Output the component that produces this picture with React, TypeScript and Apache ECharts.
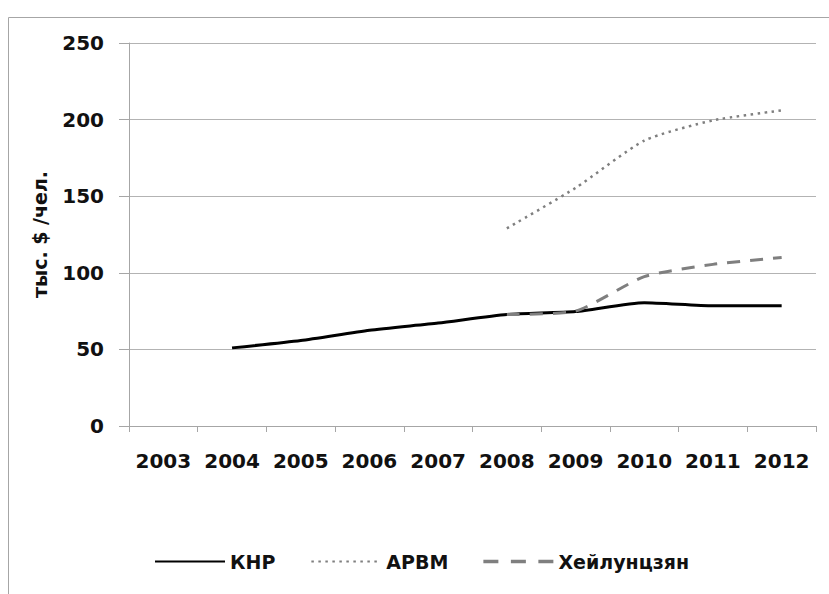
import React, { useEffect, useRef } from "react";
import * as echarts from "echarts";

const years = ["2003", "2004", "2005", "2006", "2007", "2008", "2009", "2010", "2011", "2012"];
const knr = [null, 51, 55.8, 62.5, 67.2, 72.8, 74.7, 80.5, 78.5, 78.5];
const arvm = [null, null, null, null, null, 129, 155.4, 186.3, 199.5, 206];
const heilong = [null, null, null, null, null, 72.8, 75, 97.5, 105.5, 110];
const seriesNames = ["КНР", "АРВМ", "Хейлунцзян"];

const FONT = "DejaVu Sans";

export default function App() {
  const ref = useRef<HTMLDivElement>(null);
  useEffect(() => {
    if (!ref.current) return;
    const chart = echarts.init(ref.current, null, { renderer: "svg" });
    chart.setOption({
      animation: false,
      backgroundColor: "#ffffff",
      textStyle: { fontFamily: FONT },
      graphic: [
        {
          type: "rect",
          shape: { x: 8.5, y: 17.5, width: 900, height: 700 },
          style: { fill: "none", stroke: "#a6a6a6", lineWidth: 1 },
          silent: true,
        },
      ],
      grid: { left: 129, right: 13, top: 43, bottom: 168 },
      legend: {
        left: 149,
        top: 547,
        itemWidth: 70,
        itemHeight: 14,
        itemGap: 35,
        data: [
          { name: seriesNames[0] },
          { name: seriesNames[1] },
          {
            name: seriesNames[2],
            icon: "path://M0,0h15v3.4h-15z M27.5,0h15v3.4h-15z M55,0h15v3.4h-15z",
            itemStyle: { opacity: 1, color: "#7f7f7f" },
          },
        ],
        itemStyle: { opacity: 0 },
        textStyle: { fontFamily: FONT, fontWeight: "bold", fontSize: 19, color: "#111" },
      },
      xAxis: {
        type: "category",
        data: years,
        boundaryGap: true,
        axisLine: { lineStyle: { color: "#a6a6a6", width: 1 } },
        axisTick: { show: true, length: 6, interval: 0, lineStyle: { color: "#a6a6a6" } },
        axisLabel: {
          interval: 0,
          hideOverlap: false,
          margin: 25,
          fontFamily: FONT,
          fontWeight: "bold",
          fontSize: 20,
          color: "#111",
        },
        splitLine: { show: false },
      },
      yAxis: {
        type: "value",
        min: 0,
        max: 250,
        interval: 50,
        name: "тыс. $ /чел.",
        nameLocation: "middle",
        nameGap: 80,
        nameTextStyle: { fontFamily: FONT, fontWeight: "bold", fontSize: 19, color: "#111" },
        axisLine: { show: true, lineStyle: { color: "#a6a6a6", width: 1 } },
        axisTick: { show: true, length: 10, lineStyle: { color: "#a6a6a6" } },
        axisLabel: { margin: 25, fontFamily: FONT, fontWeight: "bold", fontSize: 20, color: "#111" },
        splitLine: { show: true, lineStyle: { color: "#b3b3b3", width: 1 } },
      },
      series: [
        {
          name: seriesNames[0],
          type: "line",
          data: knr,
          symbol: "none",
          smooth: 0.2,
          connectNulls: false,
          lineStyle: { color: "#000000", width: 3, type: "solid" },
          itemStyle: { color: "#000000" },
        },
        {
          name: seriesNames[1],
          type: "line",
          data: arvm,
          symbol: "none",
          smooth: 0.2,
          connectNulls: false,
          lineStyle: { color: "#7f7f7f", width: 2.5, type: [2.5, 4.5] },
          itemStyle: { color: "#7f7f7f" },
        },
        {
          name: seriesNames[2],
          type: "line",
          data: heilong,
          symbol: "none",
          smooth: 0.2,
          connectNulls: false,
          lineStyle: { color: "#7f7f7f", width: 3, type: [13, 10] },
          itemStyle: { color: "#7f7f7f" },
        },
      ],
    });
    return () => chart.dispose();
  }, []);
  return (
    <div
      ref={ref}
      style={{ position: "fixed", left: 0, top: 0, width: 829, height: 594, background: "#fff" }}
    />
  );
}
